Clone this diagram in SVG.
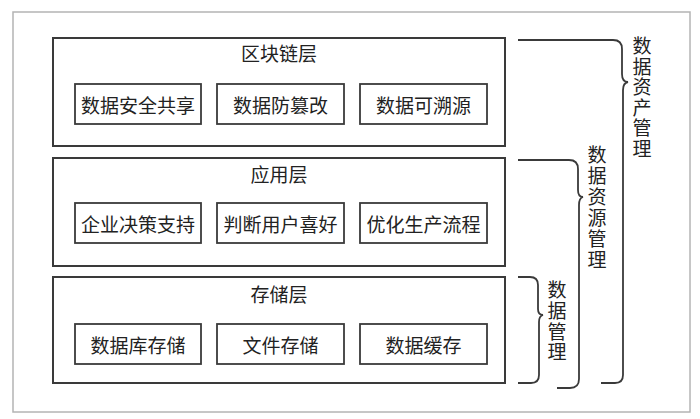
<svg xmlns="http://www.w3.org/2000/svg" width="700" height="419" viewBox="0 0 700 419">
<style>
.frame{fill:#fff;stroke:#b4b4b4;stroke-width:1.5}
.layer{fill:#fff;stroke:#3a3a3a;stroke-width:2}
.box{fill:#fff;stroke:#3a3a3a;stroke-width:1.8}
.t{font-family:"Noto Sans CJK SC","Noto Sans CJK TC",sans-serif;font-size:19px;fill:#222;text-anchor:middle;dominant-baseline:central}
.v{font-family:"Noto Sans CJK SC","Noto Sans CJK TC",sans-serif;font-size:19px;fill:#222;writing-mode:vertical-rl;text-anchor:start}
.brace{fill:none;stroke:#3a3a3a;stroke-width:1.8}
</style>
<rect x="0" y="0" width="700" height="419" fill="#fff"/>
<rect class="frame" x="13" y="12" width="677" height="400"/>
<g id="layer-blockchain">
<rect class="layer" x="53" y="38" width="452" height="108"/>
<text class="t" x="279" y="52">区块链层</text>
</g>
<g id="node-share"><rect class="box" x="75" y="84" width="126" height="40"/><text class="t" x="138" y="104">数据安全共享</text></g>
<g id="node-tamper"><rect class="box" x="217" y="84" width="127" height="40"/><text class="t" x="280.5" y="104">数据防篡改</text></g>
<g id="node-trace"><rect class="box" x="360" y="84" width="127" height="40"/><text class="t" x="423.5" y="104">数据可溯源</text></g>
<g id="layer-app">
<rect class="layer" x="53" y="158" width="452" height="108"/>
<text class="t" x="279" y="173">应用层</text>
</g>
<g id="node-decision"><rect class="box" x="75" y="203" width="126" height="40"/><text class="t" x="138" y="223">企业决策支持</text></g>
<g id="node-pref"><rect class="box" x="217" y="203" width="127" height="40"/><text class="t" x="280.5" y="223">判断用户喜好</text></g>
<g id="node-prod"><rect class="box" x="360" y="203" width="127" height="40"/><text class="t" x="423.5" y="223">优化生产流程</text></g>
<g id="layer-storage">
<rect class="layer" x="53" y="277" width="452" height="106"/>
<text class="t" x="279" y="293">存储层</text>
</g>
<g id="node-db"><rect class="box" x="75" y="324" width="126" height="40"/><text class="t" x="138" y="344">数据库存储</text></g>
<g id="node-file"><rect class="box" x="217" y="324" width="127" height="40"/><text class="t" x="280.5" y="344">文件存储</text></g>
<g id="node-cache"><rect class="box" x="360" y="324" width="127" height="40"/><text class="t" x="423.5" y="344">数据缓存</text></g>
<g id="connectors">
<path class="brace" d="M518,40 H613 Q622,40 622,49 V74 Q622,82 628,82 Q623,83 623,90 V375 Q623,383 615,383 H601"/>
<path class="brace" d="M518,160 H569 Q578,160 578,169 V190 Q578,197 583,197 Q579,198 579,205 V379 Q579,388 570,388 H557"/>
<path class="brace" d="M518,277 H530 Q538,277 538,285 V309 Q538,315 543,315 Q539,316 539,322 V375 Q539,383 531,383 H518"/>
</g>
<g id="label-asset">
<text class="v" x="642" y="36.5" style="letter-spacing:1.5px">数据资产管理</text>
</g>
<g id="label-resource">
<text class="v" x="597" y="145.5" style="letter-spacing:2px">数据资源管理</text>
</g>
<g id="label-data">
<text class="v" x="557" y="280.5" style="letter-spacing:1.7px">数据管理</text>
</g>
</svg>
